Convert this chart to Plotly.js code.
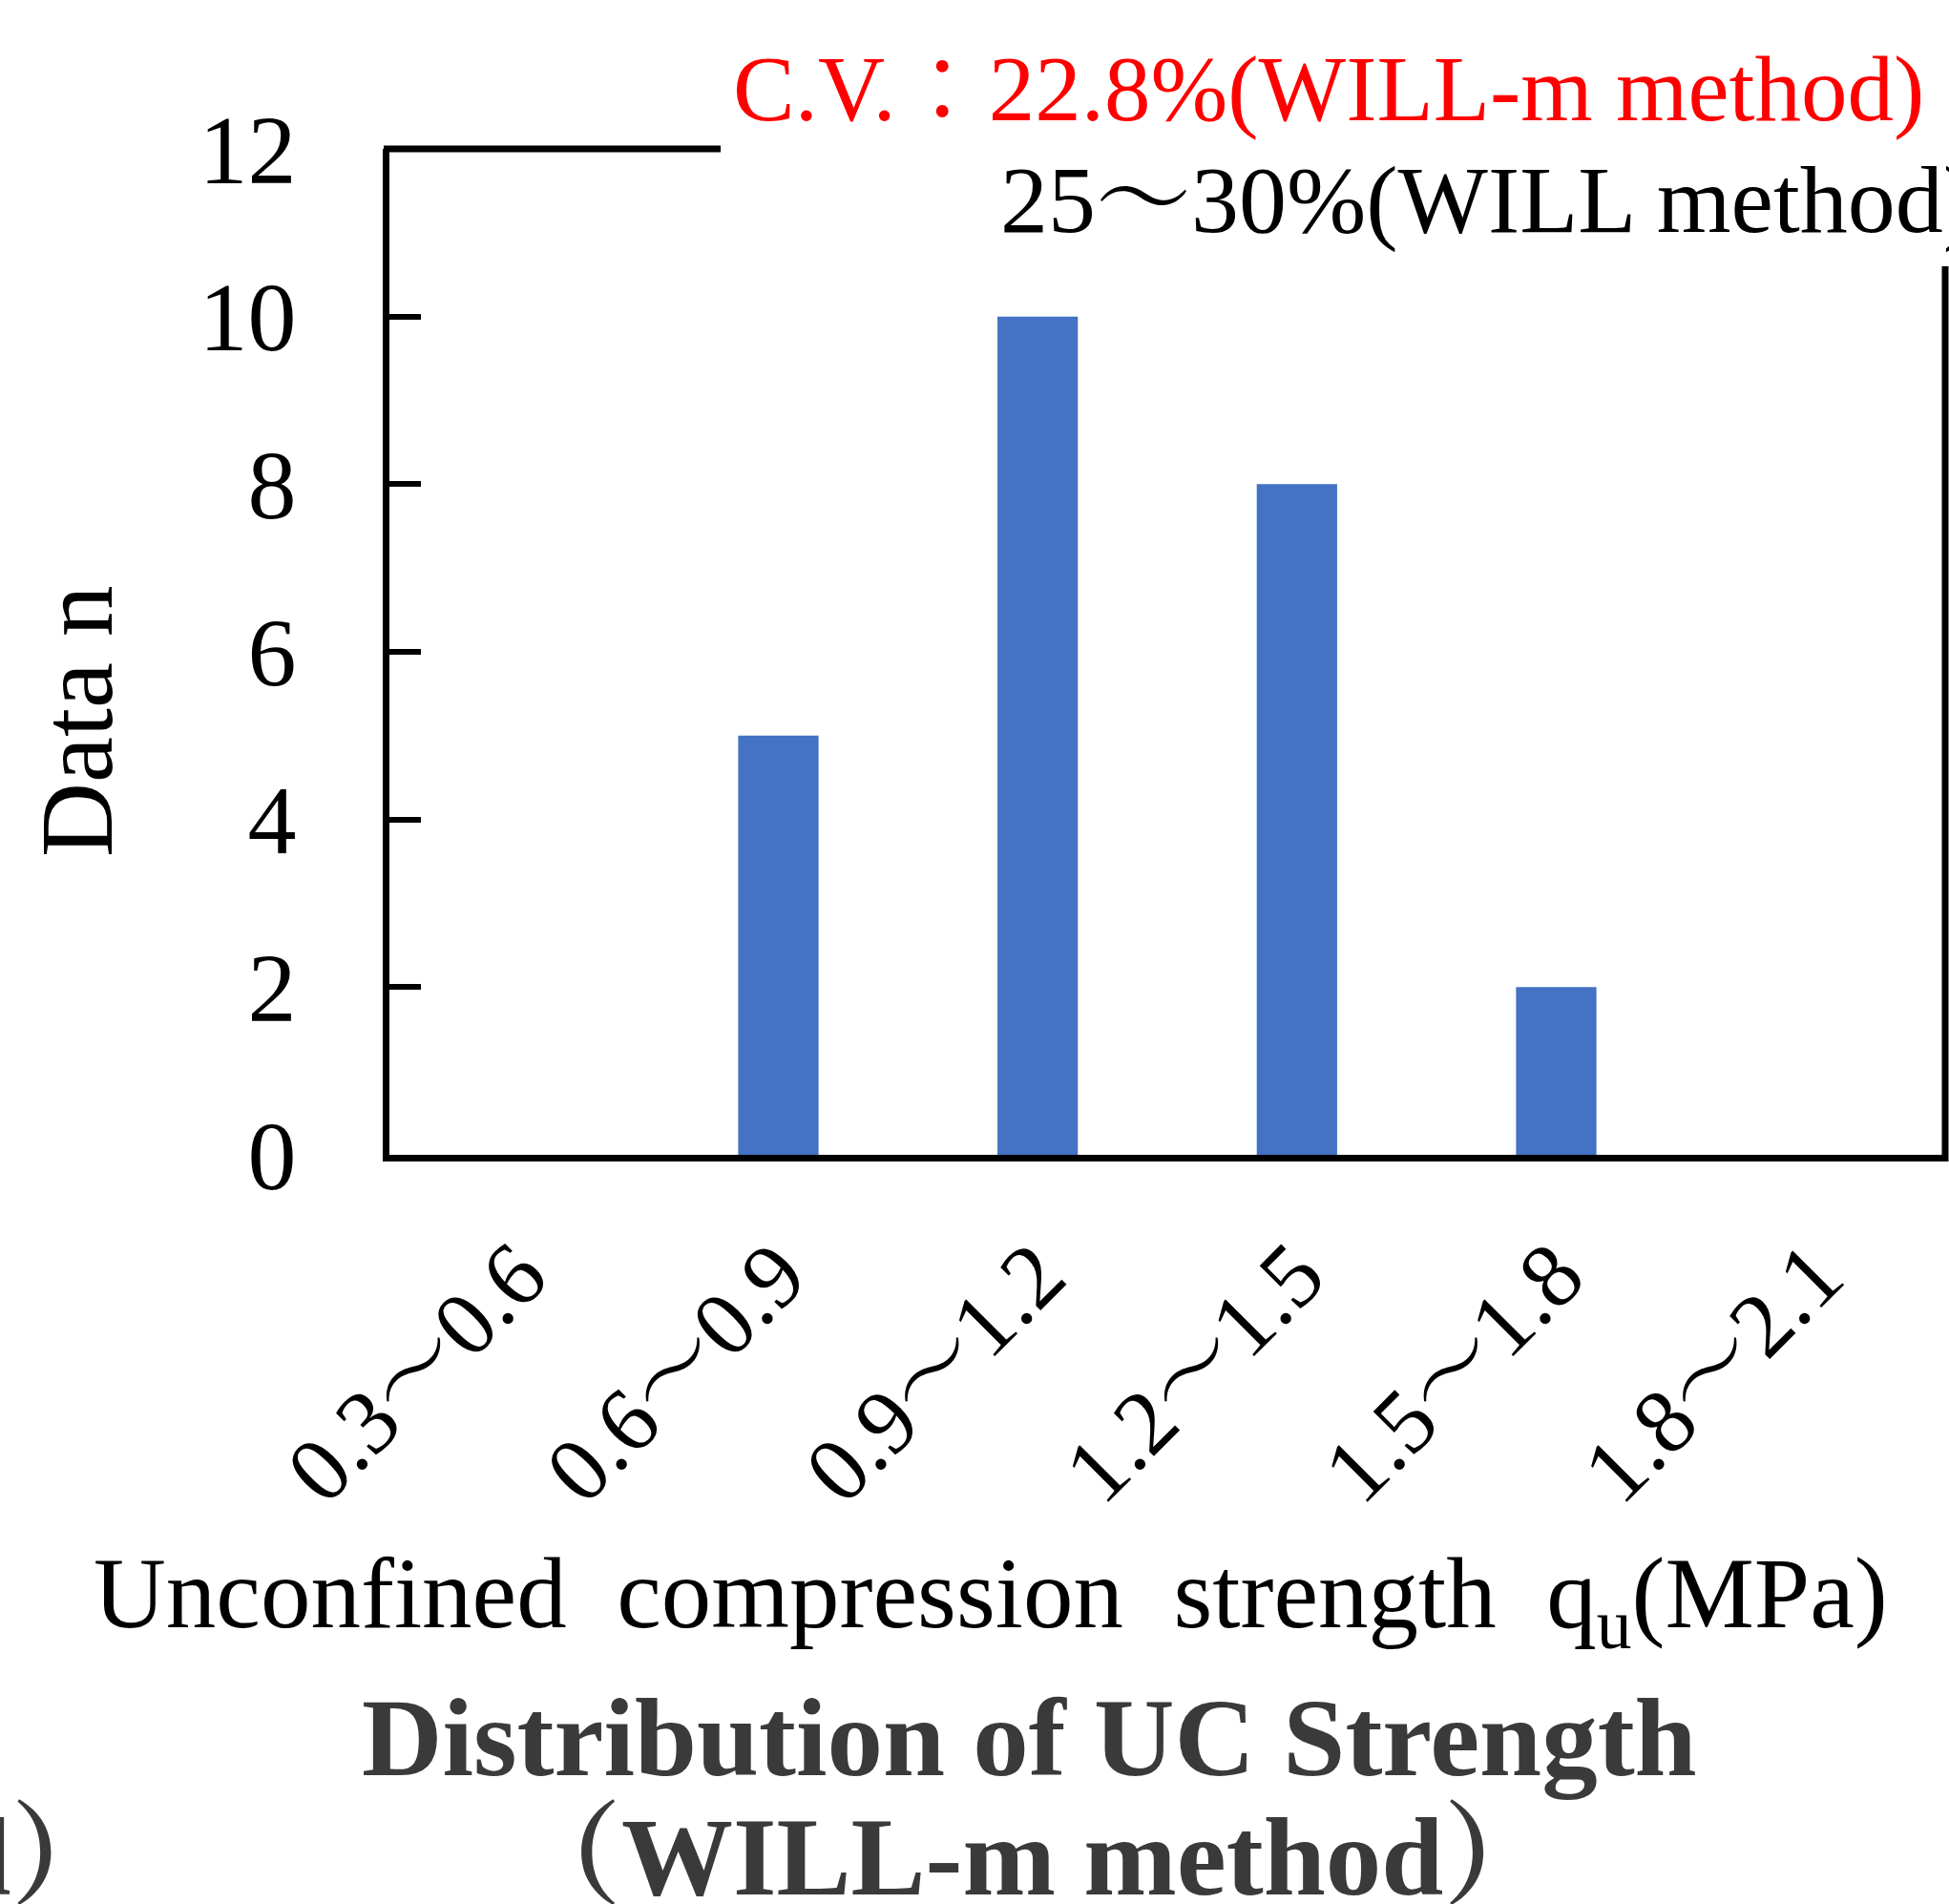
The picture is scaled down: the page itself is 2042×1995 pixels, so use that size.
<!DOCTYPE html>
<html>
<head>
<meta charset="utf-8">
<script src="https://cdn.plot.ly/plotly-3.0.1.min.js"></script>
<style>html,body{margin:0;padding:0;background:#fff;}#chart{width:2042px;height:1995px;}</style>
</head>
<body>
<div id="chart"></div>
<script>
// ---- data ----
const categories = ["0.3～0.6", "0.6～0.9", "0.9～1.2", "1.2～1.5", "1.5～1.8", "1.8～2.1"];
const counts = [0, 5, 10, 8, 2, 0];
const yTickValues = [0, 2, 4, 6, 8, 10, 12];
const yTickLabels = ["0", "2", "4", "6", "8", "10", "12"];
const xTitle = "Unconfined\u00a0 compression\u00a0 strength\u00a0 q<sub>u</sub>(MPa)";
const yTitle = "Data n";
const titleLine1 = "<b>Distribution of UC Strength</b>";
const titleLine2 = "<b>（WILL-m method）</b>";
const cvLine1 = "C.V.：22.8%(WILL-m method)";
const cvLine2 = "25～30%(WILL method)";
const neighbourFragment = "<b>（WILL method）</b>";

// ---- layout geometry (pixels) ----
const W = 2042, H = 1995;
const L = 408, R = 2038, T = 156, B = 1210;
const pw = R - L, ph = B - T;
const px = x => (x - L) / pw;
const py = y => (B - y) / ph;

const serif = "'Liberation Serif', 'Times New Roman', 'Noto Serif CJK JP', serif";

const trace = {
  type: "bar",
  x: categories,
  y: counts,
  width: 0.31,
  marker: {color: "#4472C4", line: {width: 0}},
  hoverinfo: "x+y"
};

const layout = {
  width: W, height: H,
  margin: {l: L, r: W - R, t: T, b: H - B, pad: 0},
  paper_bgcolor: "#ffffff",
  plot_bgcolor: "#ffffff",
  showlegend: false,
  font: {family: serif, color: "#000000"},
  xaxis: {
    type: "category",
    range: [-0.5, 5.5],
    showline: true, linecolor: "#000000", linewidth: 7,
    showgrid: false, zeroline: false,
    ticks: "",
    tickangle: -45,
    ticklabelstandoff: 24,
    tickfont: {family: serif, size: 96, color: "#000000"}
  },
  yaxis: {
    range: [0, 12],
    tickmode: "array", tickvals: yTickValues, ticktext: yTickLabels,
    showline: true, linecolor: "#000000", linewidth: 7,
    showgrid: false, zeroline: false,
    ticks: "inside", ticklen: 33, tickwidth: 6, tickcolor: "#000000",
    ticklabelstandoff: 70,
    tickfont: {family: serif, size: 102, color: "#000000"}
  },
  shapes: [
    {type: "line", xref: "paper", yref: "paper", x0: px(402), x1: px(755), y0: 1, y1: 1,
     line: {color: "#000000", width: 7}},
    {type: "line", xref: "paper", yref: "paper", x0: 1, x1: 1, y0: py(1217), y1: py(279),
     line: {color: "#000000", width: 7}}
  ],
  annotations: [
    {text: cvLine1, xref: "paper", yref: "paper", x: px(2018), y: py(124 - 30), xanchor: "right", yanchor: "middle",
     showarrow: false, font: {family: serif, size: 97, color: "#ff0000"}},
    {text: cvLine2, xref: "paper", yref: "paper", x: px(1046), y: py(239 - 30), xanchor: "left", yanchor: "middle",
     showarrow: false, font: {family: serif, size: 100, color: "#000000"}},
    {text: yTitle, xref: "paper", yref: "paper", x: px(80), y: py(756), xanchor: "center", yanchor: "middle",
     textangle: -90, showarrow: false, font: {family: serif, size: 108, color: "#000000"}},
    {text: xTitle, xref: "paper", yref: "paper", x: px(1038), y: py(1709 - 32), xanchor: "center", yanchor: "middle",
     showarrow: false, font: {family: serif, size: 105, color: "#000000"}},
    {text: titleLine1, xref: "paper", yref: "paper", x: px(1078), y: py(1856 - 35), xanchor: "center", yanchor: "middle",
     showarrow: false, font: {family: serif, size: 117, color: "#3a3a3a"}},
    {text: titleLine2, xref: "paper", yref: "paper", x: px(1081), y: py(1980 - 35), xanchor: "center", yanchor: "middle",
     showarrow: false, font: {family: serif, size: 117, color: "#3a3a3a"}},
    {text: neighbourFragment, xref: "paper", yref: "paper", x: px(130), y: py(1980 - 35), xanchor: "right", yanchor: "middle",
     showarrow: false, font: {family: serif, size: 117, color: "#3a3a3a"}}
  ]
};

Plotly.newPlot("chart", [trace], layout, {displayModeBar: false, staticPlot: true});
</script>
</body>
</html>
